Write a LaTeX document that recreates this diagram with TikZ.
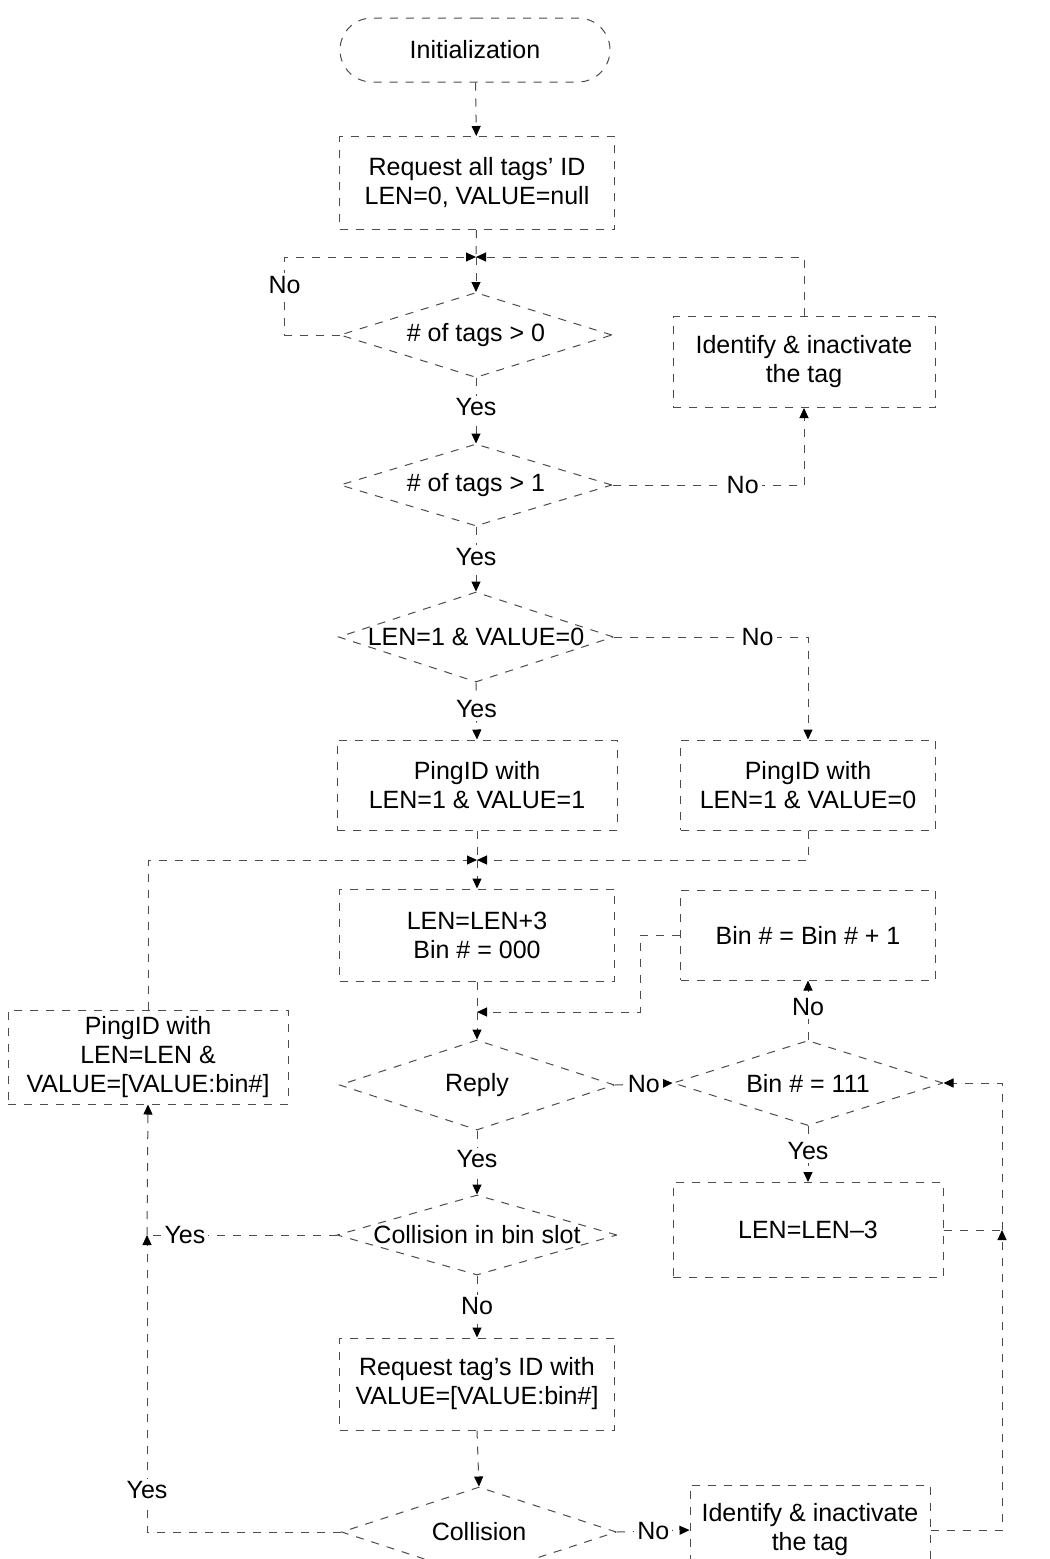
\documentclass[tikz,border=0pt]{standalone}
\usepackage{fontspec}
\setmainfont{Liberation Sans}
\usetikzlibrary{shapes.geometric,shapes.misc,arrows.meta}
\begin{document}
\begin{tikzpicture}[x=0.5pt,y=-0.5pt,
  font=\fontsize{12.5}{14.5}\selectfont,
  ln/.style={draw=black!70, line width=0.5pt, dash pattern=on 4pt off 4pt},
  arr/.style={ln, -{Triangle[length=5pt,width=4.5pt,color=black]}},
  proc/.style={rectangle, ln, inner sep=0pt, align=center},
  dec/.style={diamond, ln, inner sep=0pt},
  term/.style={rounded rectangle, ln, inner sep=0pt},
  lab/.style={fill=white, inner sep=1.5pt}]
\fill[white] (0,0) rectangle (1050,1559);
\useasboundingbox (0,0) rectangle (1050,1559);

% ---- nodes ----
\node[term, minimum width=135pt, minimum height=32pt] (init) at (475,50) {Initialization};
\node[proc, minimum width=137.5pt, minimum height=46.5pt] (req) at (477,183) {Request all tags' ID\\LEN=0, VALUE=null};
\coordinate (m1) at (476,257);
\node[dec, minimum width=136pt, minimum height=42.5pt] (d1) at (476,335) {};
\node (t1) at (d1) {\# of tags > 0};
\node[proc, minimum width=131pt, minimum height=45.5pt] (id1) at (804,362) {Identify \& inactivate\\the tag};
\node[dec, minimum width=136pt, minimum height=41pt] (d2) at (476,485) {};
\node (t2) at (d2) {\# of tags > 1};
\node[dec, minimum width=137.5pt, minimum height=45pt] (d3) at (476,637) {};
\node (t3) at (d3) {LEN=1 \& VALUE=0};
\node[proc, minimum width=140pt, minimum height=45pt] (p1) at (477,785) {PingID with\\LEN=1 \& VALUE=1};
\node[proc, minimum width=127.5pt, minimum height=45pt] (p2) at (808,785) {PingID with\\LEN=1 \& VALUE=0};
\coordinate (m2) at (477,860);
\node[proc, minimum width=137.5pt, minimum height=46pt] (len1) at (477,935) {LEN=LEN+3\\Bin \# = 000};
\node[proc, minimum width=127.5pt, minimum height=45pt] (bin1) at (808,935) {Bin \# = Bin \# + 1};
\coordinate (m3) at (477,1012);
\node[dec, minimum width=137.5pt, minimum height=45pt] (reply) at (477,1085) {};
\node (t4) at (reply) {Reply};
\node[dec, minimum width=135pt, minimum height=42.5pt] (bin111) at (808,1083) {};
\node (t5) at (bin111) {Bin \# = 111};
\node[proc, minimum width=140pt, minimum height=47pt] (pl) at (148,1057) {PingID with\\LEN=LEN \&\\VALUE=[VALUE:bin\#]};
\node[dec, minimum width=140pt, minimum height=40pt] (cb) at (477,1235) {};
\node (t6) at (cb) {Collision in bin slot};
\node[proc, minimum width=135pt, minimum height=47.5pt] (len3) at (808,1230) {LEN=LEN--3};
\node[proc, minimum width=137.5pt, minimum height=46pt] (req2) at (477,1384) {Request tag's ID with\\VALUE=[VALUE:bin\#]};
\node[dec, minimum width=137.5pt, minimum height=45pt] (cd) at (479,1532) {};
\node (t7) at (cd) {Collision};
\node[proc, minimum width=120pt, minimum height=45pt] (id2) at (810,1530) {Identify \& inactivate\\the tag};
\coordinate (j) at (1002,1230);
\coordinate (j2) at (147,1235);

% ---- connectors ----
\draw[arr] (init) -- (req);
\draw[ln] (req) -- (m1);
\draw[arr] (m1) -- (d1.north);
\draw[arr] (d1.west) -- ++(-55,0) |- node[lab,pos=0.32] (n1) {No} (m1);
\draw[arr] (id1.north) |- (m1);
\draw[arr] (d1.south) -- node[lab,pos=0.45] (y1) {Yes} (d2.north);
\draw[arr] (d2.east) -| node[lab,pos=0.34] (n2) {No} (id1.south);
\draw[arr] (d2.south) -- node[lab,pos=0.47] (y2) {Yes} (d3.north);
\draw[arr] (d3.east) -| node[lab,pos=0.37] (n3) {No} (p2.north);
\draw[arr] (d3.south) -- node[lab,pos=0.47] (y3) {Yes} (p1.north);
\draw[ln] (p1.south) -- (m2);
\draw[arr] (p2.south) |- (m2);
\draw[arr] (pl.north) |- (m2);
\draw[arr] (m2) -- (len1.north);
\draw[ln] (len1.south) -- (m3);
\draw[arr] (bin1.west) -- ++(-40,0) |- (m3);
\draw[arr] (m3) -- (reply.north);
\draw[arr] (reply.east) -- node[lab] (n4) {No} (bin111.west);
\draw[arr] (bin111.north) -- node[lab,pos=0.55] (n5) {No} (bin1.south);
\draw[arr] (bin111.south) -- node[lab,pos=0.45] (y4) {Yes} (len3.north);
\draw[ln] (len3.east) -- (j);
\draw[arr] (j) |- (bin111.east);
\draw[arr] (id2.east) -| (j);
\draw[arr] (reply.south) -- node[lab,pos=0.45] (y5) {Yes} (cb.north);
\draw[ln] (cb.west) -- node[lab,pos=0.8] (y6) {Yes} (j2);
\draw[arr] (j2) -- (pl.south);
\draw[arr] (cd.west) -| node[lab,pos=0.57] (y7) {Yes} (j2);
\draw[arr] (cb.south) -- node[lab,pos=0.5] (n6) {No} (req2.north);
\draw[arr] (req2.south) -- (cd.north);
\draw[arr] (cd.east) -- node[lab] (n7) {No} (id2.west);
\end{tikzpicture}
\end{document}
